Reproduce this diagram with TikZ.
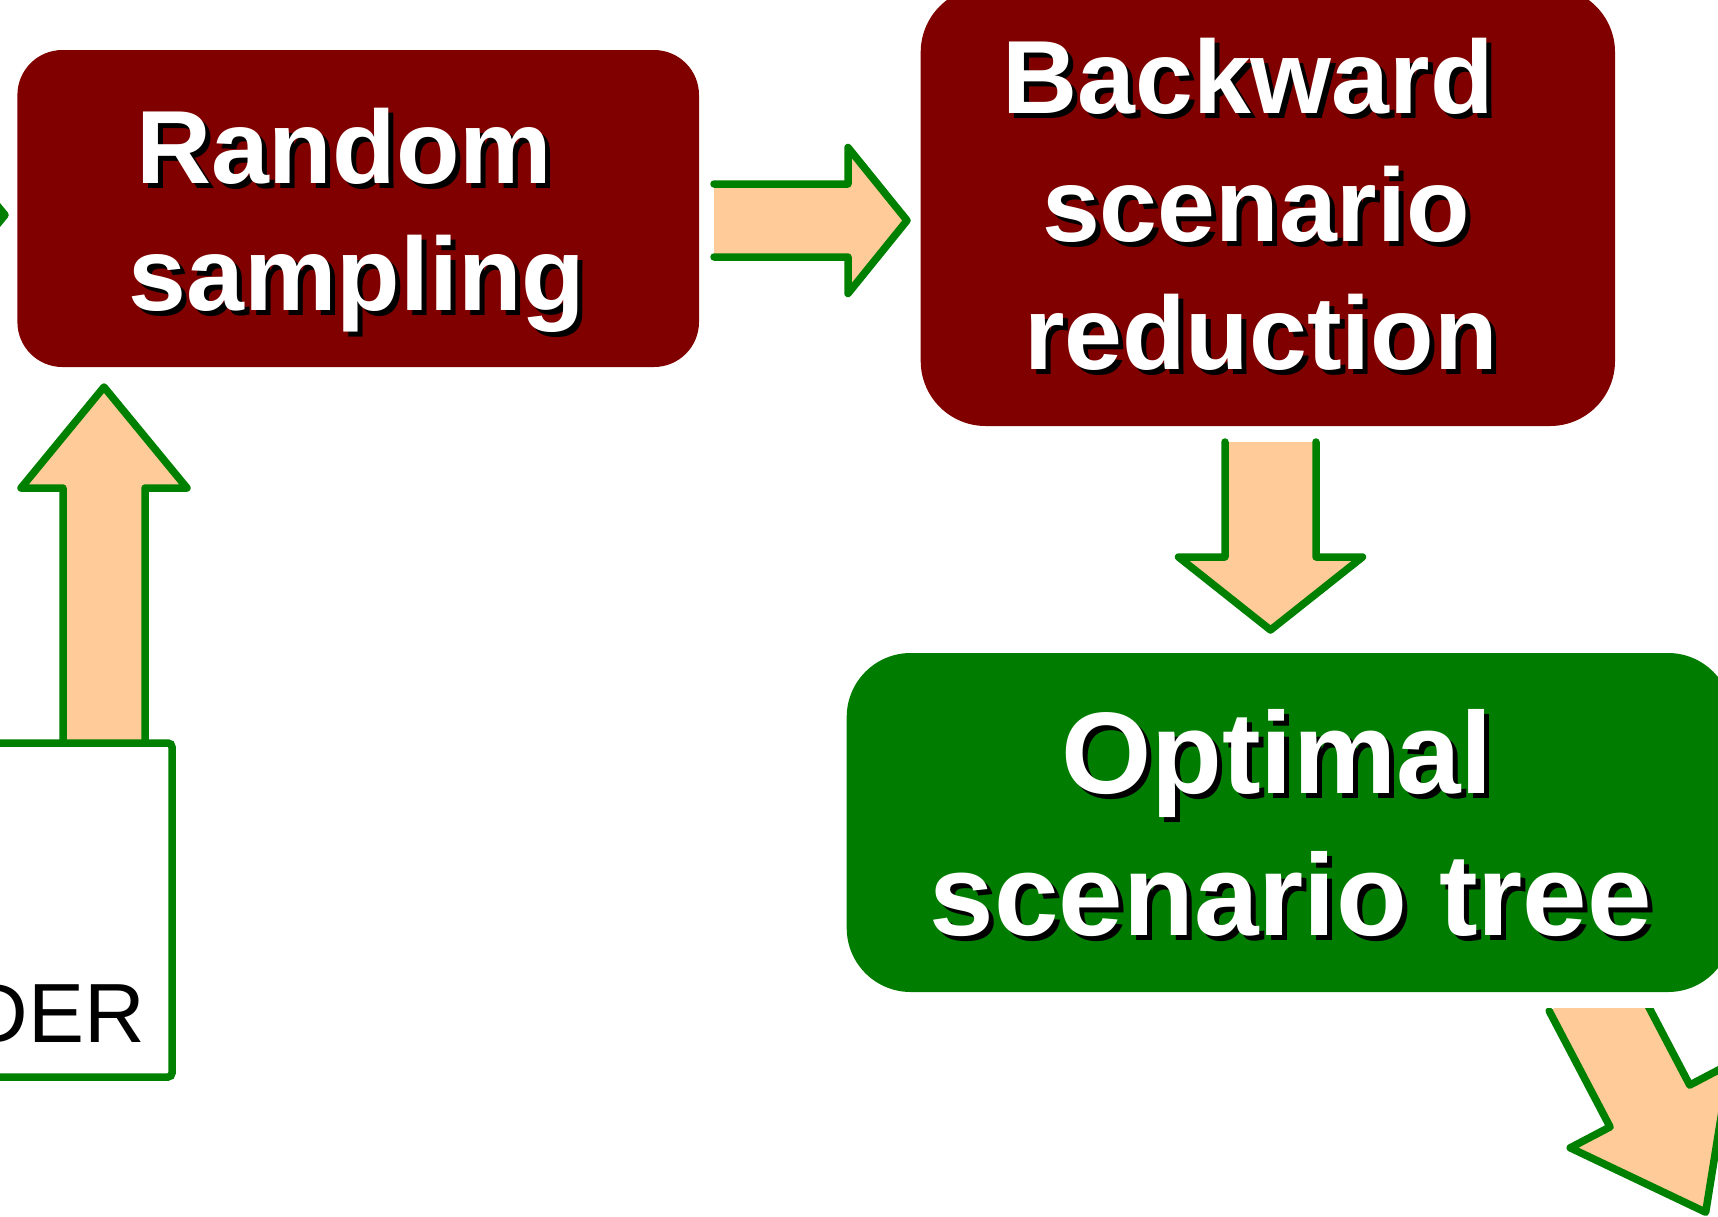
\documentclass[tikz,border=0pt]{standalone}
\usepackage{fontspec}
\setmainfont{Liberation Sans}
\usepackage{tikz}

\definecolor{boxred}{HTML}{800000}
\definecolor{boxgreen}{HTML}{007D00}
\definecolor{linegreen}{HTML}{008000}
\definecolor{peach}{HTML}{FFCC99}

\tikzset{
  redbox/.style={fill=boxred, inner sep=0pt},
  greenbox/.style={fill=boxgreen, inner sep=0pt},
  derbox/.style={draw=linegreen, fill=white, line width=7.5pt, rounded corners=4pt, inner sep=0pt},
  boxfont/.style={font=\fontsize{#1}{#1}\selectfont\bfseries, inner sep=0pt, anchor=base},
  arrowfill/.style={fill=peach},
  arrowline/.style={draw=linegreen, line width=7.5pt, line join=round, line cap=round}
}

% block arrow: tail, angle, length, shaft half width, head half width, head length
\newcommand{\blockarrow}[6]{%
  \begin{scope}[shift={(#1)}, rotate=#2]
    \fill[arrowfill] (0,-#4) -- (#3-#6,-#4) -- (#3-#6,-#5) -- (#3,0) -- (#3-#6,#5) -- (#3-#6,#4) -- (0,#4) -- cycle;
    \draw[arrowline] (0,-#4) -- (#3-#6,-#4) -- (#3-#6,-#5) -- (#3,0) -- (#3-#6,#5) -- (#3-#6,#4) -- (0,#4);
  \end{scope}}

% white text with black shadow: name, size, x, baseline y, text
\newcommand{\shline}[5]{%
  \node[boxfont=#2, text=black] (#1s) at (#3+5,#4+5) {#5};
  \node[boxfont=#2, text=white] (#1) at (#3,#4) {#5};}

\begin{document}
\begin{tikzpicture}[x=1pt, y=-1pt]
\clip (0,0) rectangle (1718,1216);

% arrow tails
\coordinate (intail) at (-200,215);
\coordinate (rbtail) at (714,220.5);
\coordinate (botail) at (1270.5,442);
\coordinate (dstail) at (104,743);
\coordinate (ottail) at (1589,990);

% arrows
\blockarrow{intail}{0}{205}{37}{73}{60}
\blockarrow{rbtail}{0}{193}{36.5}{73}{59}
\blockarrow{botail}{-90}{188}{45.5}{92}{73}
\blockarrow{dstail}{90}{356}{41}{83}{101}
\begin{scope}
  \clip (0,1008) rectangle (1718,1216);
  \blockarrow{ottail}{-62.3}{251}{45}{90}{120}
\end{scope}

% boxes
\node[redbox, minimum width=681.6pt, minimum height=317pt, rounded corners=45pt] (rand) at (358.2,208.5) {};
\node[redbox, minimum width=694.3pt, minimum height=438.8pt, rounded corners=65pt] (back) at (1267.85,206.6) {};
\node[greenbox, minimum width=885.3pt, minimum height=339pt, rounded corners=64pt] (opt) at (1289.35,822.5) {};
\node[derbox, minimum width=472pt, minimum height=334pt] (der) at (-64,910) {};

% texts
\shline{rand1}{104}{344}{183}{Random}
\shline{rand2}{104}{357}{310}{sampling}
\shline{back1}{104}{1248}{113}{Backward}
\shline{back2}{104}{1256}{241}{scenario}
\shline{back3}{104}{1261}{369}{reduction}
\shline{opt1}{116}{1277}{793}{Optimal}
\shline{opt2}{116}{1291}{935}{scenario tree}
\node[font=\fontsize{84}{84}\selectfont, inner sep=0pt, anchor=base east] (dertxt) at (145,1042) {DER};
\end{tikzpicture}
\end{document}
